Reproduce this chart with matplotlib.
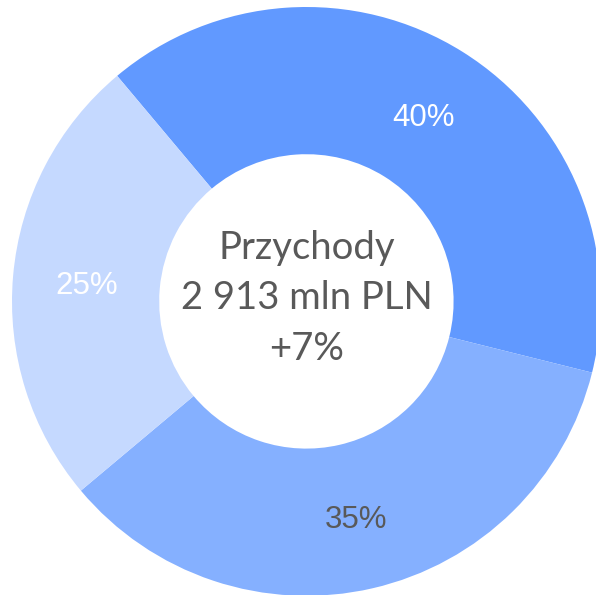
import matplotlib
matplotlib.use("Agg")
import matplotlib.pyplot as plt

labels = ["40%", "35%", "25%"]
values = [40, 35, 25]
colors = ["#6199FF", "#85B0FF", "#C5D9FF"]
label_colors = ["white", "#595959", "white"]
center_lines = ["Przychody", "2 913 mln PLN", "+7%"]

W, H = 596, 595
fig = plt.figure(figsize=(W / 100, H / 100), dpi=100)
ax = fig.add_axes([0, 0, 1, 1])
cx, cy, R = 306.4, 301.4, 294.4

wedges, texts = ax.pie(values, labels=labels, colors=colors, startangle=130,
                       counterclock=False, radius=1.0, labeldistance=0.75,
                       wedgeprops=dict(width=0.5, linewidth=0),
                       textprops=dict(fontsize=22.5, family="Liberation Sans"))
for t, c in zip(texts, label_colors):
    t.set_color(c)
    t.set_ha("center")
    t.set_va("center_baseline")

ax.text(0, 0.01, "\n".join(center_lines), ha="center", va="center",
        fontsize=27.5, color="#595959", family="Lato", linespacing=1.5)

ax.set_xlim(-cx / R, (W - cx) / R)
ax.set_ylim(-(H - cy) / R, cy / R)
ax.set_aspect("equal")
ax.axis("off")
fig.savefig("out.png", dpi=100)
